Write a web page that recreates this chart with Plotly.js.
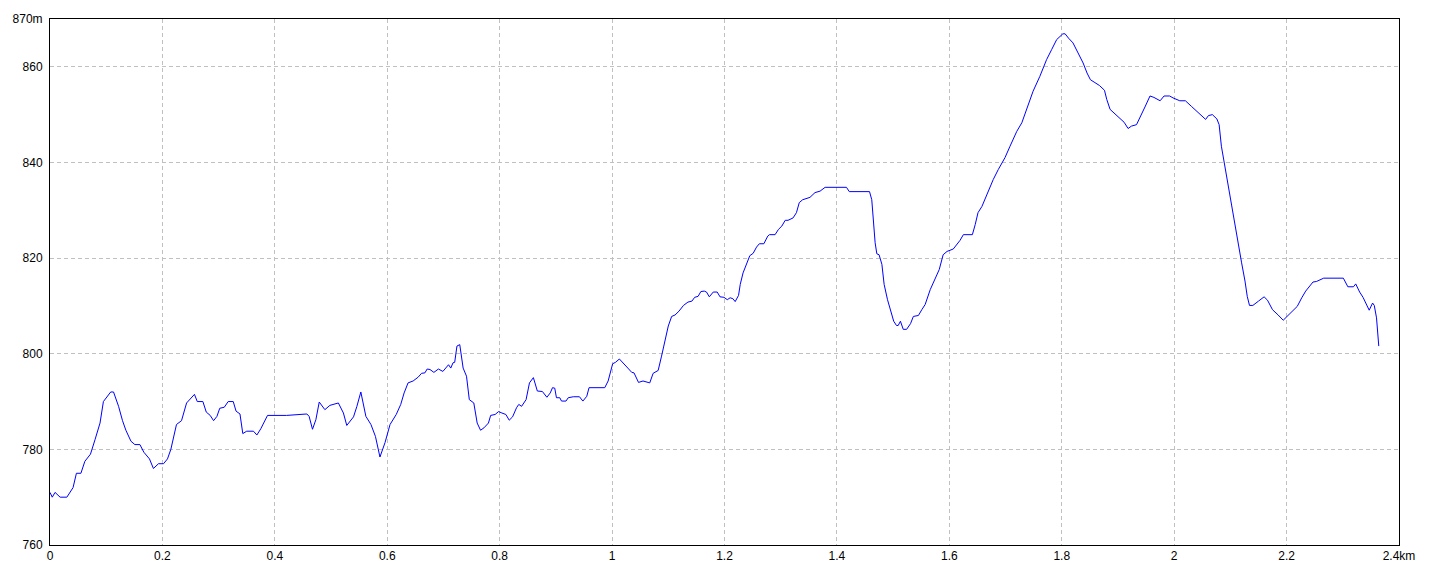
<!DOCTYPE html>
<html>
<head>
<meta charset="utf-8">
<script src="https://cdn.plot.ly/plotly-3.0.1.min.js"></script>
<style>
html,body{margin:0;padding:0;background:#fff;}
#chart{width:1440px;height:576px;}
</style>
</head>
<body>
<div id="chart"></div>
<script>
// Distance along the route (km)
const distanceKm = [
0.000,0.004,0.009,0.018,0.030,0.041,0.047,0.055,0.062,0.072,0.080,0.089,0.095,0.101,0.108,0.113,0.122,0.129,0.135,0.144,
0.151,0.160,0.167,0.177,0.184,0.193,0.202,0.209,0.215,0.225,0.234,0.243,0.252,0.257,0.262,0.272,0.278,0.285,0.291,0.297,
0.302,0.310,0.317,0.326,0.331,0.338,0.343,0.350,0.362,0.368,0.375,0.387,0.421,0.439,0.457,0.461,0.467,0.473,0.479,0.489,
0.498,0.513,0.522,0.528,0.534,0.540,0.546,0.553,0.562,0.571,0.579,0.587,0.596,0.605,0.616,0.624,0.630,0.637,0.646,0.655,
0.661,0.667,0.671,0.676,0.683,0.691,0.699,0.709,0.713,0.717,0.720,0.724,0.729,0.735,0.741,0.746,0.754,0.760,0.766,0.772,
0.780,0.784,0.792,0.798,0.804,0.811,0.817,0.823,0.830,0.834,0.839,0.847,0.853,0.860,0.867,0.876,0.884,0.890,0.894,0.898,
0.901,0.907,0.910,0.918,0.922,0.931,0.942,0.948,0.955,0.959,0.987,0.993,1.001,1.006,1.013,1.020,1.028,1.035,1.039,1.047,
1.055,1.064,1.067,1.073,1.082,1.088,1.094,1.100,1.106,1.112,1.119,1.127,1.135,1.142,1.147,1.153,1.158,1.164,1.168,1.173,
1.180,1.187,1.192,1.199,1.205,1.210,1.215,1.219,1.225,1.228,1.233,1.239,1.245,1.251,1.257,1.262,1.270,1.277,1.280,1.290,
1.296,1.302,1.308,1.313,1.322,1.328,1.333,1.339,1.352,1.361,1.370,1.379,1.417,1.422,1.458,1.462,1.465,1.468,1.471,1.475,
1.480,1.484,1.490,1.496,1.501,1.506,1.509,1.513,1.518,1.524,1.531,1.536,1.545,1.551,1.557,1.566,1.574,1.582,1.589,1.596,
1.607,1.613,1.619,1.625,1.641,1.646,1.651,1.658,1.663,1.669,1.678,1.687,1.699,1.708,1.720,1.729,1.738,1.749,1.761,1.773,
1.782,1.791,1.802,1.806,1.812,1.820,1.829,1.838,1.845,1.851,1.859,1.867,1.876,1.880,1.886,1.895,1.904,1.911,1.918,1.924,
1.933,1.939,1.948,1.957,1.964,1.975,1.982,1.992,1.998,2.010,2.020,2.031,2.043,2.056,2.061,2.068,2.076,2.080,2.084,2.090,
2.096,2.102,2.108,2.114,2.120,2.126,2.130,2.134,2.140,2.150,2.160,2.166,2.175,2.185,2.194,2.206,2.219,2.227,2.234,2.247,
2.253,2.266,2.301,2.309,2.319,2.323,2.330,2.336,2.342,2.347,2.353,2.356,2.360,2.364
];

// Elevation (m)
const elevationM = [
771,770,771,770,770,772,775,775,777.5,779,782,785.5,790,791,792,792,789,786,784,781.7,
781,781,779.4,778,776,777,777,778,780,785.2,786,789.7,790.8,791.5,790,790,787.8,787.1,786,786.9,
788.6,788.8,790,790,788,787.4,783.3,783.8,783.8,783,784.3,787.1,787.1,787.3,787.4,786.9,784.2,786.2,789.9,788.3,
789.2,789.7,787.6,785,785.8,786.8,789,792,786.9,785.2,782.7,778.4,781.4,785.2,787.3,789.4,791.8,793.9,794.3,795.1,
795.9,796,796.8,796.7,796.1,796.8,796.3,797.7,797,798.1,798.2,801.6,801.9,797,795.3,790.4,789.7,785.5,784,784.5,
785.5,787.1,787.3,787.9,787.6,787.3,786.1,786.8,788.7,789.4,789,790.4,793.9,795,792.2,792.1,790.9,791.8,792.9,792.8,
790.8,790.8,790.1,790.1,790.8,791,791,790.1,791.1,792.9,792.9,794.3,797.9,798.2,798.9,798.1,797,796.1,796,794,
794.3,794,793.9,795.9,796.5,799.5,803,805.8,807.8,808.1,808.9,810.1,810.8,811,811.8,812,813,813.1,812.9,811.9,
812.9,812.9,811.9,811.8,811.3,811.7,811.5,810.9,812.2,814.5,816.9,818.7,820.5,821,822.3,823,823,824.6,824.9,824.9,
826,826.7,827.9,827.9,828.4,829.5,831.6,832.2,832.7,833.7,834,834.8,834.8,833.9,833.9,832.2,826.7,823.2,820.9,820.7,
818.7,814.5,811.3,808.6,806.8,805.9,805.9,806.8,805.1,805.1,806.3,807.8,808,809.2,810.3,813.4,815.5,817.6,820.7,821.4,
821.9,822.8,823.7,824.9,824.9,827,829.5,830.8,832.2,834,836.4,838.5,841,843.4,846.5,848.3,851.1,854.9,858,861.5,
863.6,865.7,866.9,866.9,866,865,862.9,860.8,858.7,857.3,856.7,856.1,855.1,853.2,851.1,850.2,849.3,848.4,847.1,847.6,
847.9,849.5,851.6,853.9,853.6,852.9,853.9,853.9,853.5,852.9,852.9,851.7,850.4,849,849.8,850,849.1,847.9,843.4,839.2,
835,830.8,826.7,823.2,819,815.2,812,810.1,810.1,811,811.9,811.2,809.2,808.1,807,808.4,809.9,811.7,813.1,815,
815.1,815.8,815.8,814,814,814.6,812.9,811.8,810.3,809.1,810.6,810.1,807.5,801.6
];

// Tick positions and labels
const xTickVals = [0,0.2,0.4,0.6,0.8,1,1.2,1.4,1.6,1.8,2,2.2,2.4];
const xTickText = ["0","0.2","0.4","0.6","0.8","1","1.2","1.4","1.6","1.8","2","2.2","2.4km"];
const yTickVals = [760,780,800,820,840,860,870];
const yTickText = ["760","780","800","820","840","860","870m"];

const trace = {
  x: distanceKm,
  y: elevationM,
  type: 'scatter',
  mode: 'lines',
  line: {color: '#0000ff', width: 1},
  hoverinfo: 'skip'
};

const axisCommon = {
  showgrid: true,
  gridcolor: '#c0c0c0',
  griddash: '4px,3px',
  gridwidth: 1,
  zeroline: false,
  showline: true,
  linecolor: '#000000',
  linewidth: 1,
  mirror: true,
  ticks: '',
  tickfont: {family: 'Liberation Sans, Arial, sans-serif', size: 12, color: '#000'},
  tickmode: 'array',
  fixedrange: true
};

const layout = {
  width: 1440,
  height: 576,
  margin: {l: 50, r: 41, t: 19, b: 31, pad: 0},
  paper_bgcolor: '#ffffff',
  plot_bgcolor: '#ffffff',
  showlegend: false,
  xaxis: Object.assign({}, axisCommon, {
    range: [0, 2.4],
    tickvals: xTickVals,
    ticktext: xTickText
  }),
  yaxis: Object.assign({}, axisCommon, {
    range: [760, 870],
    tickvals: yTickVals,
    ticktext: yTickText,
    ticklabelstandoff: 4
  })
};

Plotly.newPlot('chart', [trace], layout, {displayModeBar: false, staticPlot: true});
</script>
</body>
</html>
